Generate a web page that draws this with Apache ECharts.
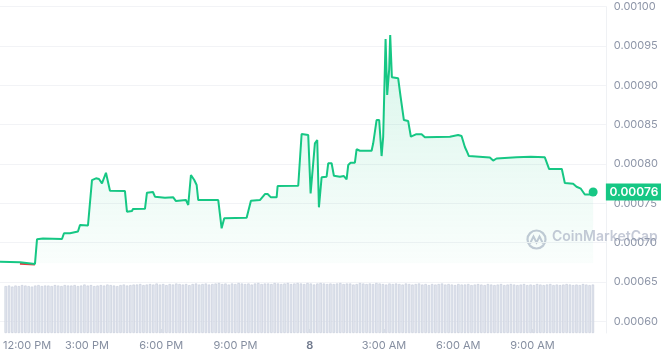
<!DOCTYPE html>
<html><head><meta charset="utf-8">
<script src="https://cdn.jsdelivr.net/npm/echarts@6/dist/echarts.min.js"></script>
<style>html,body{margin:0;padding:0;background:#fff}#c{width:661px;height:356px}</style>
</head><body><div id="c"></div>
<script>
// time in hours from midnight of day 7 (24 = midnight of day 8)
const times = [11.670,12.472,13.073,13.154,13.394,14.156,14.236,14.477,14.557,14.797,
  14.878,15.198,15.359,15.519,15.640,15.760,15.920,16.000,16.081,16.682,
  16.762,16.963,17.003,17.484,17.564,17.805,17.885,18.286,18.619,18.727,
  19.128,19.220,19.328,19.461,19.557,19.621,20.423,20.559,20.664,21.562,
  21.734,22.095,22.296,22.404,22.536,22.765,22.805,23.631,23.767,24.032,
  24.128,24.208,24.300,24.393,24.461,24.569,24.769,24.834,24.970,25.062,
  25.303,25.463,25.571,25.636,25.732,25.904,25.972,26.105,26.574,26.638,
  26.774,26.878,26.975,27.039,27.135,27.199,27.279,27.320,27.388,27.640,
  27.737,27.869,28.041,28.150,28.350,28.579,28.711,29.713,30.046,30.182,
  30.315,30.383,30.475,31.317,31.449,31.586,32.388,32.961,33.522,33.695,
  34.204,34.324,34.657,34.793,34.966,35.126,35.327,35.459];
const prices = [0.0006758,0.0006750,0.0006730,0.0007042,0.0007053,0.0007046,0.0007119,0.0007119,0.0007142,0.0007142,
  0.0007224,0.0007218,0.0007796,0.0007818,0.0007809,0.0007754,0.0007889,0.0007885,0.0007660,0.0007656,
  0.0007393,0.0007402,0.0007428,0.0007431,0.0007635,0.0007644,0.0007584,0.0007571,0.0007576,0.0007529,
  0.0007542,0.0007479,0.0007860,0.0007796,0.0007733,0.0007542,0.0007542,0.0007182,0.0007309,0.0007317,
  0.0007533,0.0007542,0.0007618,0.0007618,0.0007576,0.0007576,0.0007720,0.0007724,0.0008381,0.0008368,
  0.0007627,0.0007627,0.0008263,0.0008305,0.0007449,0.0007831,0.0007838,0.0008009,0.0008009,0.0007851,
  0.0007838,0.0007847,0.0007805,0.0007987,0.0008016,0.0008016,0.0008187,0.0008169,0.0008169,0.0008263,
  0.0008559,0.0008559,0.0008101,0.0008347,0.0009589,0.0008877,0.0009204,0.0009640,0.0009102,0.0009089,
  0.0008855,0.0008559,0.0008546,0.0008347,0.0008377,0.0008377,0.0008339,0.0008347,0.0008368,0.0008356,
  0.0008216,0.0008169,0.0008101,0.0008082,0.0008044,0.0008070,0.0008085,0.0008093,0.0008085,0.0007936,
  0.0007936,0.0007758,0.0007749,0.0007711,0.0007686,0.0007612,0.0007612,0.0007644];
const openPrice = 0.0006737;
const dipTimes = [12.47, 13.07];
const dipPrices = [0.0006732, 0.0006722];
const volumes = [
  92,93,91,93,92,94,93,92,91,93,94,92,93,93,92,94,93,92,94,93,
  93,94,92,93,95,93,94,92,93,94,93,95,94,93,92,94,95,93,94,95,
  95,96,94,95,96,95,97,95,96,94,96,95,97,96,95,96,94,96,97,95,
  96,97,95,96,97,98,96,97,95,97,96,98,97,96,97,95,97,98,96,97,
  97,96,98,97,96,97,98,96,97,98,97,96,98,97,95,97,98,97,96,97,
  96,97,98,96,97,97,95,96,98,97,96,97,96,98,97,96,95,97,96,97,
  96,95,97,96,95,96,97,95,96,94,96,95,96,97,95,96,95,94,96,95,
  95,96,94,95,96,95,94,96,95,94,95,96,94,95,96,95,94,95,96,94,
  95,94,96,95,94,95,96,94,95,94,95,96,95,94,95,94,96,95,94,95];
const volStart = 11.72, volEnd = 35.44;
const xTickHours = [12,15,18,21,24,27,30,33];
const xTickLabels = ['12:00 PM','3:00 PM','6:00 PM','9:00 PM','8','3:00 AM','6:00 AM','9:00 AM'];
const xMin = 11.67, xMax = 35.97;

const GREEN = '#16c784';
const priceData = times.map((t, i) => [t, prices[i]]);
const dipData = dipTimes.map((t, i) => [t, dipPrices[i]]);
const volData = volumes.map((v, i) => [volStart + i * (volEnd - volStart) / (volumes.length - 1), v]);
const lastTime = times[times.length - 1], lastPrice = prices[prices.length - 1];

const chart = echarts.init(document.getElementById('c'));
const wm = 'rgba(150,158,182,0.55)';
chart.setOption({
  animation: false,
  textStyle: { fontFamily: 'Inter' },
  grid: [
    { left: 0, right: 55, top: 6.7, bottom: 34.7 },
    { left: 0, right: 55, top: 282, bottom: 23 }
  ],
  xAxis: [
    { type: 'value', gridIndex: 0, min: xMin, max: xMax, show: false },
    { type: 'value', gridIndex: 1, min: xMin, max: xMax,
      axisLine: { show: false }, splitLine: { show: false },
      axisTick: { show: true, inside: true, length: 4, lineStyle: { color: '#e3e6ec' }, customValues: xTickHours },
      axisLabel: { customValues: xTickHours, color: '#858ea0', fontSize: 11, margin: 7,
        formatter: function (v) {
          let idx = xTickHours.findIndex(h => Math.abs(h - v) < 1e-6);
          if (idx < 0) return '';
          if (idx === 0) return '{first|' + xTickLabels[idx] + '}';
          if (xTickLabels[idx] === '8') return '{day|8}';
          return xTickLabels[idx];
        },
        rich: {
          first: { padding: [0, 0, 0, 29], fontSize: 11, color: '#858ea0', fontFamily: 'Inter' },
          day: { fontSize: 11, color: '#6f788c', fontWeight: 600, fontFamily: 'Inter' }
        }
      }
    }
  ],
  yAxis: [
    { type: 'value', gridIndex: 0, position: 'right', min: 0.0006, max: 0.001, interval: 0.00005,
      axisLine: { show: true, lineStyle: { color: '#eff1f4' } }, axisTick: { show: false },
      splitLine: { lineStyle: { color: '#f2f3f6' } },
      axisLabel: { margin: 8, color: '#8e96a8', fontSize: 11, formatter: v => v.toFixed(5) } },
    { type: 'value', gridIndex: 1, position: 'right', min: 0, max: 100,
      axisLine: { show: true, lineStyle: { color: '#eff1f4' } }, axisTick: { show: false },
      axisLabel: { show: false }, splitLine: { show: false } }
  ],
  series: [
    { type: 'bar', xAxisIndex: 1, yAxisIndex: 1, data: volData, barWidth: 2.4, silent: true,
      itemStyle: { color: '#e2e6ef', borderColor: '#c3c9d9', borderWidth: 0.6 } },
    { type: 'line', xAxisIndex: 0, yAxisIndex: 0, data: dipData, showSymbol: false, silent: true, z: 2,
      lineStyle: { color: '#ea3943', width: 2 },
      markLine: { silent: true, symbol: 'none', label: { show: false },
        lineStyle: { color: '#a7afbf', type: [1.5, 7], width: 1.3 },
        data: [{ yAxis: openPrice }] } },
    { type: 'line', xAxisIndex: 0, yAxisIndex: 0, data: priceData, showSymbol: false, silent: true, z: 3,
      clip: false,
      lineStyle: { color: GREEN, width: 2 },
      areaStyle: { origin: openPrice,
        color: new echarts.graphic.LinearGradient(0, 0, 0, 1, [
          { offset: 0, color: 'rgba(22,199,132,0.24)' },
          { offset: 1, color: 'rgba(22,199,132,0.03)' }]) },
      markPoint: { silent: true, label: { show: false },
        data: [
          { coord: [lastTime, lastPrice], value: lastPrice, symbol: 'circle', symbolSize: 9,
            itemStyle: { color: GREEN } },
          { coord: [xMax, lastPrice], value: lastPrice, symbol: 'rect', symbolSize: [56, 17],
            symbolOffset: [28, 0], itemStyle: { color: GREEN },
            label: { show: true, position: 'inside', formatter: p => p.value.toFixed(5),
              color: '#fff', fontSize: 12, fontWeight: 600, fontFamily: 'Inter' } }
        ] }
    }
  ],
  graphic: [
    { type: 'group', left: 525, top: 228, z: 100, silent: true, children: [
      { type: 'circle', shape: { cx: 10.5, cy: 10, r: 9 }, style: { fill: 'none', stroke: wm, lineWidth: 2.2 } },
      { type: 'polyline', shape: { points: [[4, 14], [7.5, 7], [10.5, 13], [13.5, 7], [17, 14]] },
        style: { fill: 'none', stroke: wm, lineWidth: 2 } }
    ] },
    { type: 'text', left: 552, top: 230, z: 100, silent: true,
      style: { text: 'CoinMarketCap', font: '600 14px Inter', fill: wm } }
  ]
});
</script></body></html>
